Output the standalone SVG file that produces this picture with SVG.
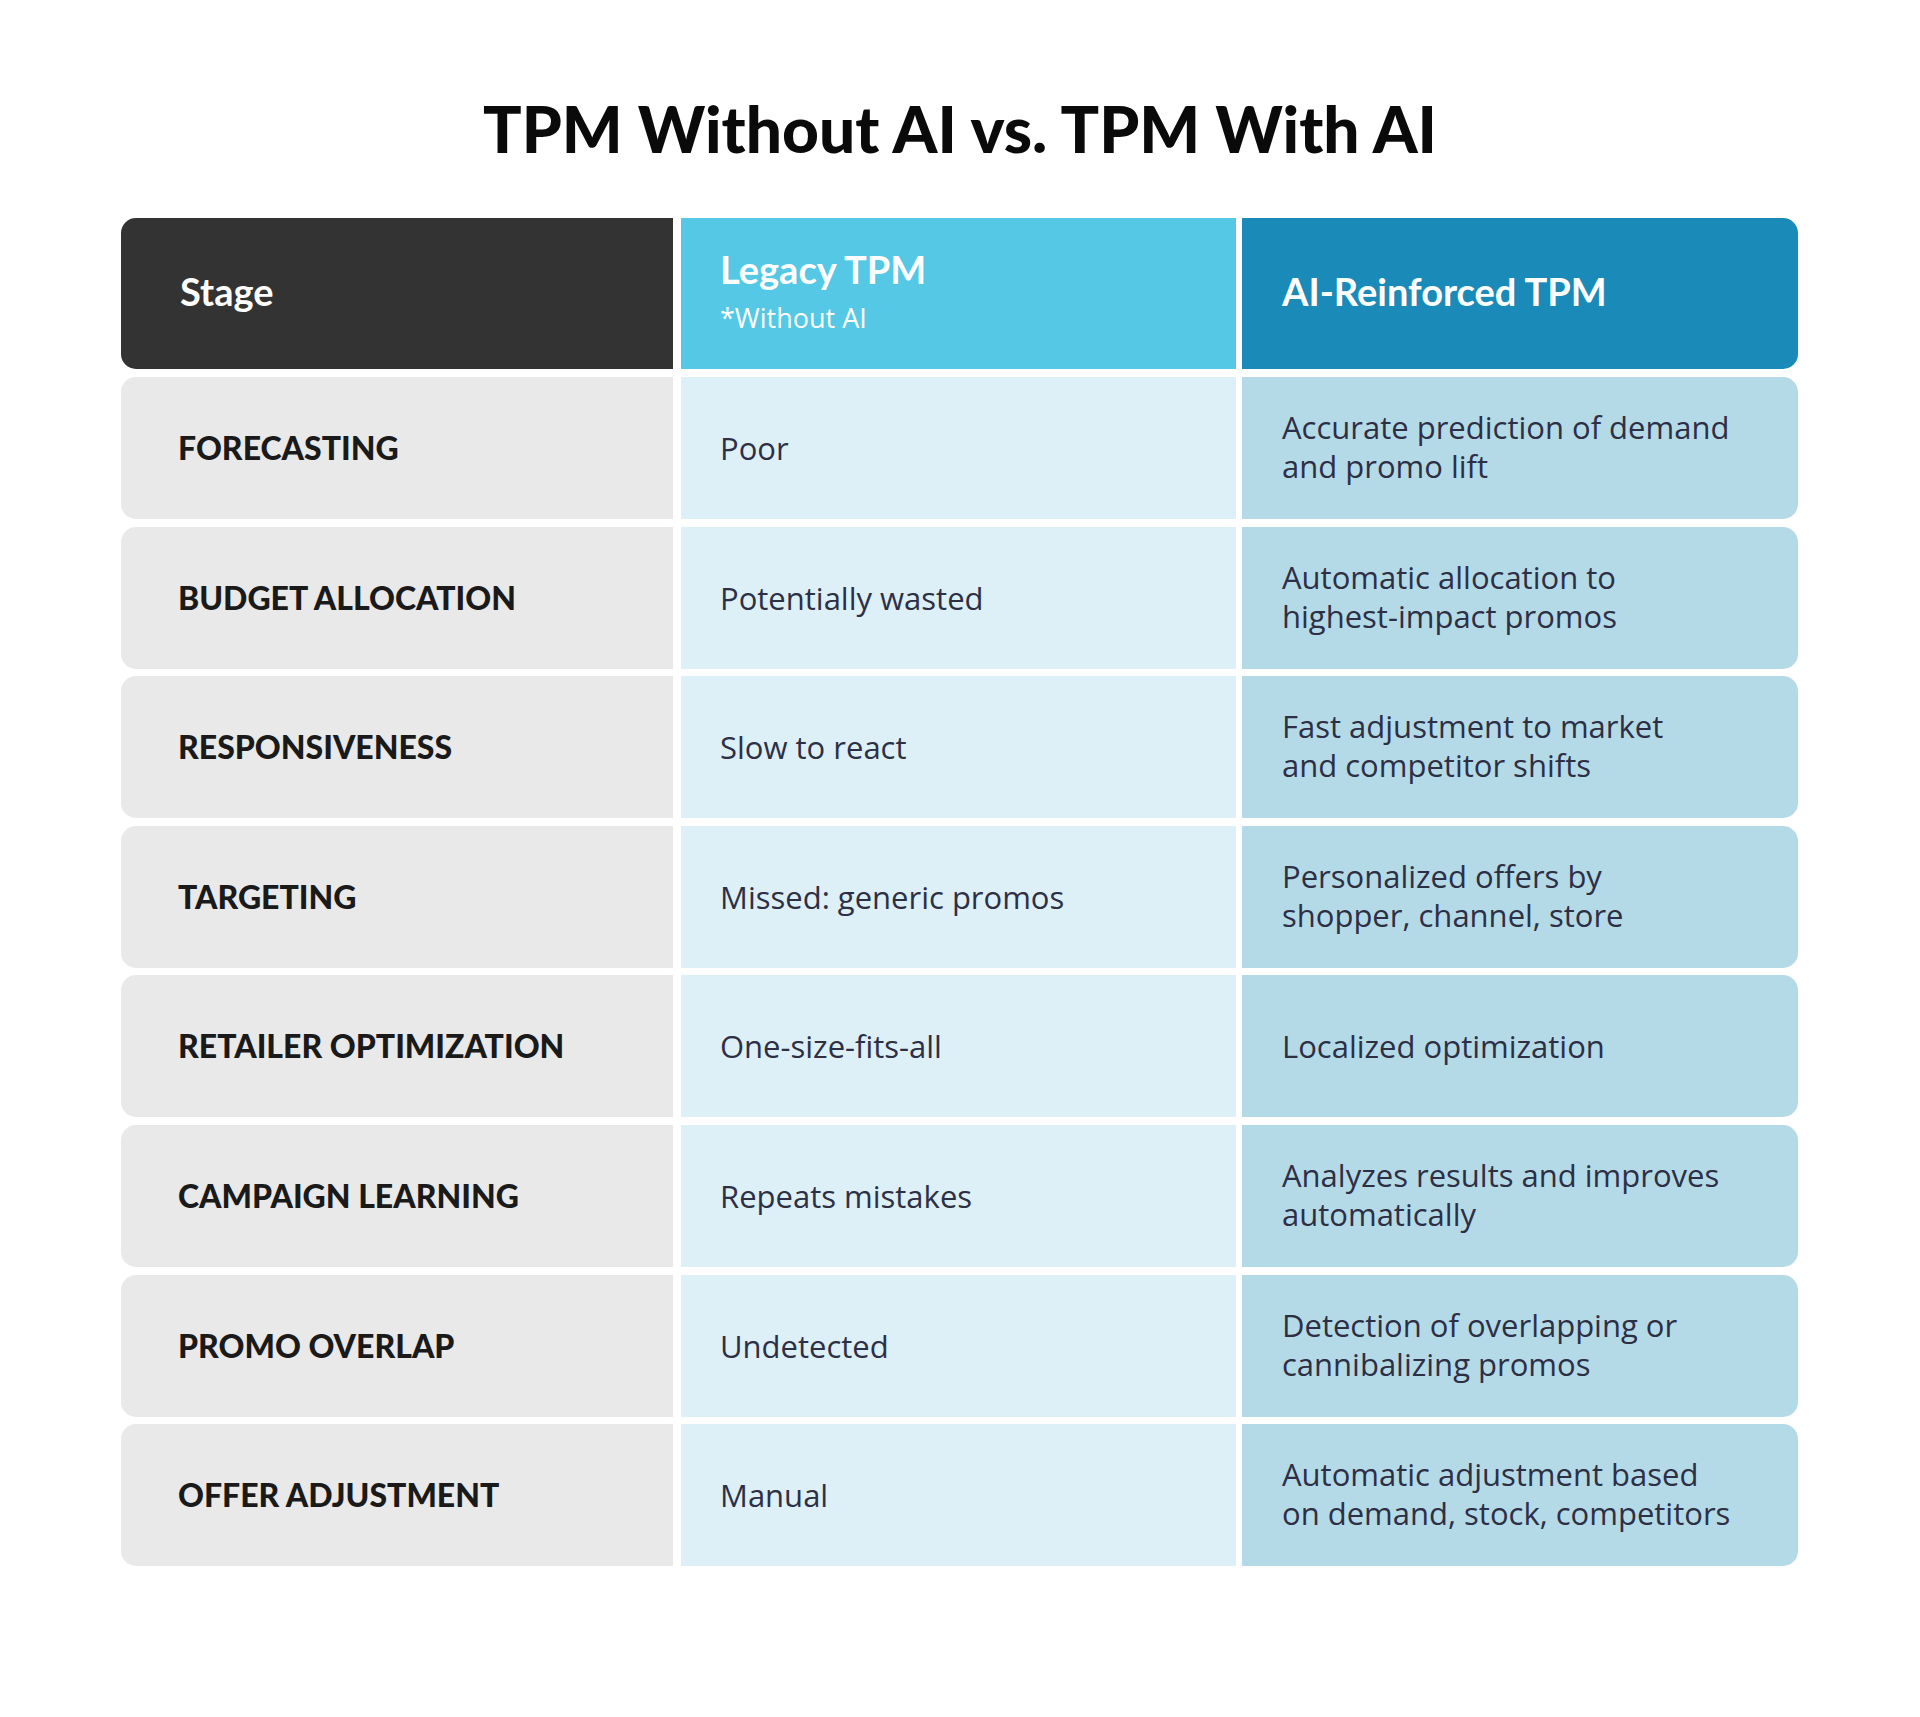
<svg xmlns="http://www.w3.org/2000/svg" width="1920" height="1717" viewBox="0 0 1920 1717">
<style>
.title{font-family:Lato,"Liberation Sans",sans-serif;font-weight:900;font-size:64px;fill:#0a0a0a}
.hd{font-family:Lato,"Liberation Sans",sans-serif;font-weight:700;font-size:38px;fill:#fff}
.sub{font-family:"Open Sans","Liberation Sans",sans-serif;font-size:27px;fill:#fff}
.st{font-family:Lato,"Liberation Sans",sans-serif;font-weight:900;font-size:32px;fill:#1a1a1a}
.tx{font-family:"Open Sans","Liberation Sans",sans-serif;font-size:31px;fill:#2d2f45}
.c1{fill:#e9e9e9}.c2{fill:#ddf0f8}.c3{fill:#b5dae7}
</style>
<defs>
<path id="L" d="M136 0H552V142H136A15 15 0 0 1 121 127V15A15 15 0 0 1 136 0Z"/>
<path id="R" d="M1242 0H1783A15 15 0 0 1 1798 15V127A15 15 0 0 1 1783 142H1242Z"/>
</defs>
<rect width="1920" height="1717" fill="#fff"/>
<text class="title" x="960" y="153" text-anchor="middle">TPM Without AI vs. TPM With AI</text>
<g id="header">
<path d="M136 218H673V369H136A15 15 0 0 1 121 354V233A15 15 0 0 1 136 218Z" fill="#333"/>
<rect x="681" y="218" width="555" height="151" fill="#54c8e4"/>
<path d="M1242 218H1783A15 15 0 0 1 1798 233V354A15 15 0 0 1 1783 369H1242Z" fill="#1a8bb8"/>
<text class="hd" x="180" y="306">Stage</text>
<text class="hd" x="720" y="284">Legacy TPM</text>
<text class="sub" x="720" y="328">*Without AI</text>
<text class="hd" x="1282" y="306">AI-Reinforced TPM</text>
</g>
<g id="row1" transform="translate(0,377)">
<path class="c1" d="M136 0H673V142H136A15 15 0 0 1 121 127V15A15 15 0 0 1 136 0Z"/><rect class="c2" x="681" width="555" height="142"/><use href="#R" class="c3"/>
<text class="st" x="178" y="83">FORECASTING</text><text class="tx" x="720" y="83">Poor</text>
<text class="tx" x="1282" y="62">Accurate prediction of demand</text><text class="tx" x="1282" y="101">and promo lift</text></g>
<g id="row2" transform="translate(0,527)">
<path class="c1" d="M136 0H673V142H136A15 15 0 0 1 121 127V15A15 15 0 0 1 136 0Z"/><rect class="c2" x="681" width="555" height="142"/><use href="#R" class="c3"/>
<text class="st" x="178" y="83">BUDGET ALLOCATION</text><text class="tx" x="720" y="83">Potentially wasted</text>
<text class="tx" x="1282" y="62">Automatic allocation to</text><text class="tx" x="1282" y="101">highest-impact promos</text></g>
<g id="row3" transform="translate(0,676)">
<path class="c1" d="M136 0H673V142H136A15 15 0 0 1 121 127V15A15 15 0 0 1 136 0Z"/><rect class="c2" x="681" width="555" height="142"/><use href="#R" class="c3"/>
<text class="st" x="178" y="83">RESPONSIVENESS</text><text class="tx" x="720" y="83">Slow to react</text>
<text class="tx" x="1282" y="62">Fast adjustment to market</text><text class="tx" x="1282" y="101">and competitor shifts</text></g>
<g id="row4" transform="translate(0,826)">
<path class="c1" d="M136 0H673V142H136A15 15 0 0 1 121 127V15A15 15 0 0 1 136 0Z"/><rect class="c2" x="681" width="555" height="142"/><use href="#R" class="c3"/>
<text class="st" x="178" y="83">TARGETING</text><text class="tx" x="720" y="83">Missed: generic promos</text>
<text class="tx" x="1282" y="62">Personalized offers by</text><text class="tx" x="1282" y="101">shopper, channel, store</text></g>
<g id="row5" transform="translate(0,975)">
<path class="c1" d="M136 0H673V142H136A15 15 0 0 1 121 127V15A15 15 0 0 1 136 0Z"/><rect class="c2" x="681" width="555" height="142"/><use href="#R" class="c3"/>
<text class="st" x="178" y="83">RETAILER OPTIMIZATION</text><text class="tx" x="720" y="83">One-size-fits-all</text>
<text class="tx" x="1282" y="83">Localized optimization</text></g>
<g id="row6" transform="translate(0,1125)">
<path class="c1" d="M136 0H673V142H136A15 15 0 0 1 121 127V15A15 15 0 0 1 136 0Z"/><rect class="c2" x="681" width="555" height="142"/><use href="#R" class="c3"/>
<text class="st" x="178" y="83">CAMPAIGN LEARNING</text><text class="tx" x="720" y="83">Repeats mistakes</text>
<text class="tx" x="1282" y="62">Analyzes results and improves</text><text class="tx" x="1282" y="101">automatically</text></g>
<g id="row7" transform="translate(0,1275)">
<path class="c1" d="M136 0H673V142H136A15 15 0 0 1 121 127V15A15 15 0 0 1 136 0Z"/><rect class="c2" x="681" width="555" height="142"/><use href="#R" class="c3"/>
<text class="st" x="178" y="83">PROMO OVERLAP</text><text class="tx" x="720" y="83">Undetected</text>
<text class="tx" x="1282" y="62">Detection of overlapping or</text><text class="tx" x="1282" y="101">cannibalizing promos</text></g>
<g id="row8" transform="translate(0,1424)">
<path class="c1" d="M136 0H673V142H136A15 15 0 0 1 121 127V15A15 15 0 0 1 136 0Z"/><rect class="c2" x="681" width="555" height="142"/><use href="#R" class="c3"/>
<text class="st" x="178" y="83">OFFER ADJUSTMENT</text><text class="tx" x="720" y="83">Manual</text>
<text class="tx" x="1282" y="62">Automatic adjustment based</text><text class="tx" x="1282" y="101">on demand, stock, competitors</text></g>
<g id="connectors"/>
</svg>
